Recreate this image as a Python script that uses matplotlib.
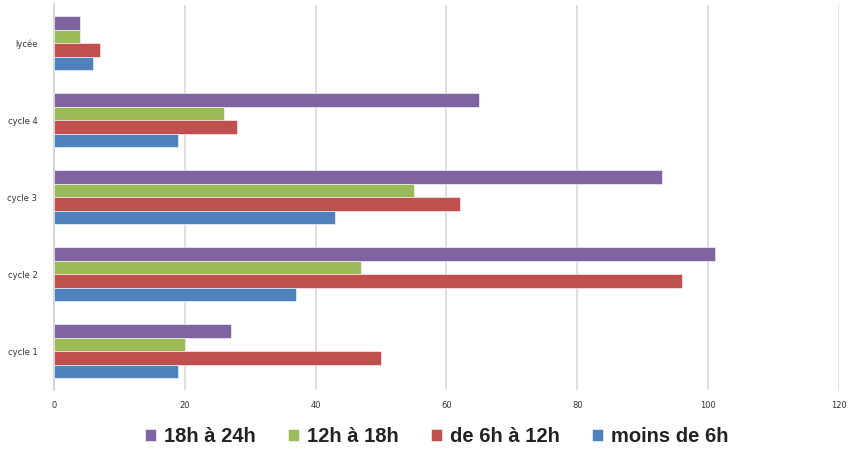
import numpy as np
import matplotlib.pyplot as plt

# Categories, top to bottom
categories = ['lycée', 'cycle 4', 'cycle 3', 'cycle 2', 'cycle 1']
series_names = ['18h à 24h', '12h à 18h', 'de 6h à 12h', 'moins de 6h']
h18_24 = [4, 65, 93, 101, 27]
h12_18 = [4, 26, 55, 47, 20]
h6_12 = [7, 28, 62, 96, 50]
h0_6 = [6, 19, 43, 37, 19]
colors = ['#8064A2', '#9BBB59', '#C0504D', '#4F81BD']
xticks = [0, 20, 40, 60, 80, 100, 120]

fig = plt.figure(figsize=(8.5, 4.5), dpi=100)
ax = fig.add_axes([0.0635, 0.134, 0.9235, 0.856])

y = np.arange(len(categories))
bar_h = 0.175
series = [h18_24, h12_18, h6_12, h0_6]
for i, (vals, name, col) in enumerate(zip(series, series_names, colors)):
    ax.barh(y + (i - 1.5) * bar_h, vals, height=bar_h, color=col,
            edgecolor='white', linewidth=0.4, label=name, zorder=3)

ax.set_ylim(len(categories) - 0.5, -0.5)
ax.set_xlim(0, 120)
ax.set_yticks(y)
ax.set_yticklabels(categories, fontsize=6, color='#333333')
ax.set_xticks(xticks)
ax.set_xticklabels([str(t) for t in xticks], fontsize=6, color='#333333')
ax.tick_params(axis='x', length=0, pad=8)
ax.tick_params(axis='y', length=0, pad=12)

ax.xaxis.grid(True, color='#d9d9d9', linewidth=1.2, zorder=0)
for s in ['top', 'right', 'bottom']:
    ax.spines[s].set_visible(False)
ax.spines['left'].set_color('#d0d0d0')
ax.spines['left'].set_linewidth(1.2)

handles, labels = ax.get_legend_handles_labels()
leg = fig.legend(handles, labels, loc='center', bbox_to_anchor=(0.514, 0.03), ncol=4,
                 frameon=False, handlelength=0.55, handleheight=0.55, handletextpad=0.4,
                 columnspacing=1.6,
                 prop={'family': ['Liberation Sans', 'DejaVu Sans'], 'size': 14.5, 'weight': 'bold'})
for t in leg.get_texts():
    t.set_color('#222222')

fig.savefig('out.png', dpi=100)
